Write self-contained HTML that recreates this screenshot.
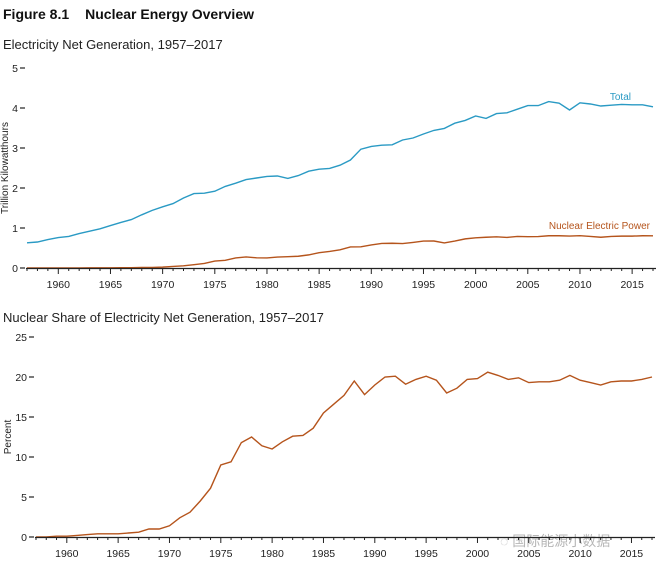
<!DOCTYPE html>
<html><head><meta charset="utf-8"><style>
body{margin:0;background:#fff;width:667px;height:561px;overflow:hidden;font-family:"Liberation Sans",Arial,sans-serif}
svg text{font-family:"Liberation Sans",Arial,sans-serif}
</style></head><body>
<svg id="s" width="667" height="561" xmlns="http://www.w3.org/2000/svg">
<text x="3" y="19" font-size="14" font-weight="bold" fill="#111">Figure 8.1<tspan dx="16">Nuclear Energy Overview</tspan></text>
<text x="3" y="49" font-size="13" fill="#222">Electricity Net Generation, 1957–2017</text>
<text x="3" y="322" font-size="13" fill="#222">Nuclear Share of Electricity Net Generation, 1957–2017</text>
<text transform="translate(8,168) rotate(-90)" font-size="10" text-anchor="middle" fill="#222">Trillion Kilowatthours</text>
<text transform="translate(11,437) rotate(-90)" font-size="10" text-anchor="middle" fill="#222">Percent</text>
<text x="631" y="100" font-size="10" fill="#2a9ac4" text-anchor="end">Total</text>
<text x="650" y="229" font-size="10" fill="#b5541c" text-anchor="end">Nuclear Electric Power</text>
<text x="500" y="546" font-size="14" fill="#999" opacity="0.7" font-family="'Liberation Sans','Noto Sans CJK SC',sans-serif">◌ 国际能源小数据</text>
</svg>
<script>
const s=document.getElementById('s');const NS='http://www.w3.org/2000/svg';
function el(t,a){const e=document.createElementNS(NS,t);for(const k in a)e.setAttribute(k,a[k]);s.appendChild(e);return e}
function txt(x,y,t,a){const e=el('text',Object.assign({x:x,y:y,'font-size':10.5,fill:'#222'},a||{}));e.textContent=t}
const tot=[.63,.65,.71,.76,.79,.86,.92,.98,1.06,1.14,1.21,1.33,1.44,1.53,1.61,1.75,1.86,1.87,1.92,2.04,2.12,2.21,2.25,2.29,2.30,2.24,2.31,2.42,2.47,2.49,2.57,2.70,2.97,3.04,3.07,3.08,3.20,3.25,3.35,3.44,3.49,3.62,3.69,3.80,3.74,3.86,3.88,3.97,4.06,4.06,4.16,4.12,3.95,4.13,4.10,4.05,4.07,4.09,4.08,4.08,4.03];
const nuc=[0,0,0,0,.002,.002,.003,.003,.004,.006,.008,.013,.014,.022,.038,.054,.083,.114,.173,.191,.251,.276,.255,.251,.273,.283,.294,.328,.384,.414,.455,.527,.529,.577,.613,.619,.610,.640,.673,.675,.628,.673,.728,.754,.769,.780,.764,.789,.782,.787,.806,.806,.799,.807,.790,.769,.789,.797,.797,.806,.805];
const pct=[0,0,.1,.1,.2,.3,.4,.4,.4,.5,.6,1,1,1.4,2.4,3.1,4.5,6.1,9,9.4,11.8,12.5,11.4,11,11.9,12.6,12.7,13.6,15.5,16.6,17.7,19.5,17.8,19,20,20.1,19.1,19.7,20.1,19.6,18,18.6,19.7,19.8,20.6,20.2,19.7,19.9,19.3,19.4,19.4,19.6,20.2,19.6,19.3,19,19.4,19.5,19.5,19.7,20];
function chart(x0,x1,y0,ys,ymax,step,series){
 const X=y=>x0+(y-1957)*(x1-x0)/60;const Y=v=>y0-v*ys;
 for(let v=0;v<=ymax;v+=step){txt(x0-9,Y(v)+4,String(v),{'text-anchor':'end'});el('line',{x1:x0-7,x2:x0-2,y1:Y(v),y2:Y(v),stroke:'#222','stroke-width':1.2})}
 for(const [d,c] of series){el('polyline',{points:d.map((v,i)=>X(1957+i)+','+Y(v)).join(' '),fill:'none',stroke:c,'stroke-width':1.4})}
 el('line',{x1:x0-1,x2:x1+3,y1:y0+.5,y2:y0+.5,stroke:'#222','stroke-width':1.3});
 for(let y=1957;y<=2017;y++){const m=y%5==0;el('line',{x1:X(y),x2:X(y),y1:y0,y2:y0+(m?6:3),stroke:'#222','stroke-width':1});if(m)txt(X(y),y0+20,String(y),{'text-anchor':'middle'})}
}
chart(27,653,268,40,5,1,[[tot,'#2a9ac4'],[nuc,'#b5541c']]);
chart(36,652,537,8,25,5,[[pct,'#b5541c']]);
</script>
</body></html>
